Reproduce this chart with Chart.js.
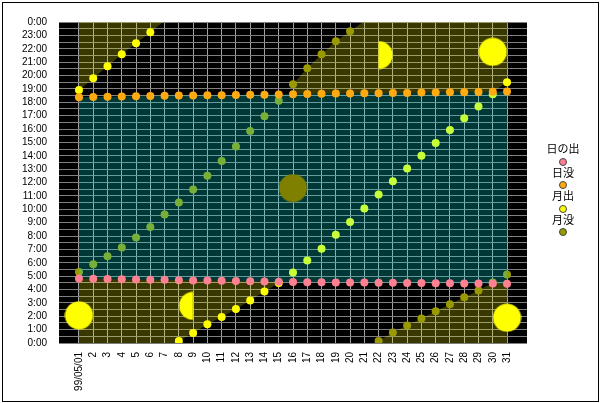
<!DOCTYPE html>
<html>
<head>
<meta charset="utf-8">
<script src="https://cdn.jsdelivr.net/npm/chart.js@4.4.1/dist/chart.umd.min.js"></script>
<style>
body { margin: 0; background: #fff; }
#wrap { position: relative; width: 602px; height: 403px; }
#c { position: absolute; left: 0; top: 0; }
#frame { position: absolute; left: 2px; top: 2px; width: 597px; height: 400px; box-sizing: border-box; border: 1px solid #000; }
#legend { position: absolute; left: 530px; top: 142px; width: 66px; font: 11px "Noto Sans CJK JP"; color: #000; text-align: center; }
.item { height: 23.5px; }
.item span { display: block; line-height: 12px; }
.item i { display: block; width: 6px; height: 6px; border: 1px solid #444; border-radius: 50%; margin: 3.5px auto 0; }
</style>
</head>
<body>
<div id="wrap">
  <canvas id="c" width="602" height="403"></canvas>
  <div id="frame"></div>
  <div id="legend"></div>
</div>
<script>
// May 1999, times in hours (0-24)
var days = [1,2,3,4,5,6,7,8,9,10,11,12,13,14,15,16,17,18,19,20,21,22,23,24,25,26,27,28,29,30,31];
var dayLabels = ["99/05/01","2","3","4","5","6","7","8","9","10","11","12","13","14","15","16",
  "17","18","19","20","21","22","23","24","25","26","27","28","29","30","31"];

var sunrise = [4.82,4.80,4.78,4.77,4.75,4.73,4.72,4.70,4.68,4.67,4.65,4.63,4.62,4.60,4.58,4.57,
  4.55,4.55,4.53,4.52,4.52,4.50,4.50,4.48,4.48,4.47,4.47,4.45,4.45,4.45,4.43];
var sunset = [18.38,18.40,18.42,18.43,18.45,18.47,18.48,18.50,18.50,18.52,18.53,18.55,18.57,18.57,18.58,18.60,
  18.62,18.63,18.65,18.65,18.67,18.68,18.70,18.70,18.72,18.73,18.75,18.75,18.77,18.78,18.80];
var moonrise = [18.91,19.79,20.69,21.59,22.41,23.23,null,0.15,0.75,1.40,1.95,2.55,3.17,3.85,4.49,5.27,
  6.17,7.04,8.10,9.05,10.05,11.10,12.10,13.05,14.00,14.95,15.92,16.80,17.69,18.59,19.49];
var moonset = [5.31,5.89,6.49,7.14,7.89,8.68,9.61,10.51,11.48,12.50,13.60,14.70,15.85,16.95,18.11,19.34,
  20.54,21.59,22.56,23.31,null,0.15,0.78,1.30,1.83,2.37,2.90,3.42,3.92,4.52,5.12];

// day where the moon paths cross midnight: [at 24:00, at 0:00]
var moonriseCross = [6.9, 7.8];
var moonsetCross = [20.9, 21.9];

// moon phase marks
var phaseDays = [1, 9, 16, 22, 30, 31];
var phaseHours = [2.07, 2.78, 11.58, 21.53, 21.77, 1.89];
var phaseKinds = ["full", "last", "new", "first", "full", "full"];

var legendNames = ["日の出", "日没", "月出", "月没"];
var colors = ["#ff8090", "#ffaa11", "#ffff00", "#999900"];

function pts(arr, from, to) {
  var out = [];
  for (var d = from; d <= to; d++) out.push({x: days[d - 1], y: arr[d - 1]});
  return out;
}

// daytime band and the night spans with the moon up
var dayBand = pts(sunset, 1, 31).concat(pts(sunrise, 1, 31).reverse());
var moonA = [{x: 1, y: 24}].concat(pts(moonrise, 1, 6), [{x: moonriseCross[0], y: 24}]);
var moonB = [{x: 1, y: 0}, {x: moonriseCross[1], y: 0}].concat(pts(moonrise, 8, 15), pts(sunrise, 1, 15).reverse());
var moonC = pts(sunset, 16, 16).concat(pts(moonset, 16, 20),
  [{x: moonsetCross[0], y: 24}, {x: 31, y: 24}, {x: 31, y: moonrise[30]}], pts(sunset, 17, 30).reverse());
var moonD = [{x: moonsetCross[1], y: 0}].concat(pts(moonset, 22, 30), [{x: 31, y: sunrise[30]}, {x: 31, y: 0}]);

function moonIcon(kind) {
  var c = document.createElement("canvas");
  c.width = 29; c.height = 29;
  var g = c.getContext("2d");
  g.fillStyle = kind == "new" ? "#808000" : "#ffff00";
  g.beginPath();
  if (kind == "last") g.arc(14.5, 14.5, 14, Math.PI / 2, Math.PI * 1.5);
  else if (kind == "first") g.arc(14.5, 14.5, 14, -Math.PI / 2, Math.PI / 2);
  else g.arc(14.5, 14.5, 14, 0, Math.PI * 2);
  g.closePath();
  g.fill();
  return c;
}

function area(data, color) {
  return {data: data, fill: "shape", backgroundColor: color, borderWidth: 0, pointRadius: 0, pointHitRadius: 0, order: 4};
}
function dots(arr, color, order) {
  return {data: pts(arr, 1, 31), showLine: false, pointRadius: 4, pointBorderWidth: 0,
    pointBackgroundColor: color, order: order};
}

var plotBg = {
  id: "plotBg",
  beforeDraw: function(chart) {
    var a = chart.chartArea, ctx = chart.ctx;
    ctx.save();
    ctx.fillStyle = "#000";
    ctx.fillRect(a.left, a.top, a.right - a.left, a.bottom - a.top);
    ctx.restore();
  }
};

Chart.defaults.font.family = "'Liberation Sans', Arial, sans-serif";

var dayBandSet = area(dayBand, "rgba(0,255,255,0.22)");
dayBandSet.order = 2;

new Chart(document.getElementById("c"), {
  type: "line",
  data: {
    datasets: [
      {
        data: phaseDays.map(function(d, i) { return {x: d, y: phaseHours[i]}; }),
        showLine: false, pointRadius: 14, order: 0,
        pointStyle: phaseKinds.map(moonIcon)
      },
      dots(sunrise, colors[0], 1),
      dots(sunset, colors[1], 1),
      dayBandSet,
      dots(moonrise, colors[2], 3),
      dots(moonset, colors[3], 3),
      area(moonA, "rgba(255,255,0,0.22)"),
      area(moonB, "rgba(255,255,0,0.22)"),
      area(moonC, "rgba(255,255,0,0.22)"),
      area(moonD, "rgba(255,255,0,0.22)")
    ]
  },
  options: {
    responsive: false,
    animation: false,
    layout: {padding: {top: 22, right: 75, bottom: 0, left: 0}},
    plugins: {legend: {display: false}, tooltip: {enabled: false}},
    scales: {
      x: {
        type: "linear", min: -0.4, max: 32.4,
        afterBuildTicks: function(s) { s.ticks = days.map(function(d) { return {value: d}; }); },
        afterFit: function(s) { s.height = 60; },
        grid: {color: "#a0a0a0", drawTicks: false},
        border: {display: false},
        ticks: {
          autoSkip: false, minRotation: 90, maxRotation: 90, padding: 9, color: "#000", font: {size: 10},
          callback: function(v) { return dayLabels[days.indexOf(v)]; }
        }
      },
      y: {
        min: 0, max: 24,
        afterFit: function(s) { s.width = 59; },
        grid: {color: "#808080", drawTicks: false},
        border: {display: false},
        ticks: {
          stepSize: 0.5, autoSkip: false, padding: 12, color: "#000", font: {size: 10},
          callback: function(v) { return v % 1 === 0 ? (v % 24) + ":00" : ""; }
        }
      }
    }
  },
  plugins: [plotBg]
});

var lg = document.getElementById("legend");
legendNames.forEach(function(n, i) {
  var d = document.createElement("div");
  d.className = "item";
  d.innerHTML = "<span>" + n + "</span><i style='background:" + colors[i] + "'></i>";
  lg.appendChild(d);
});
</script>
</body>
</html>
